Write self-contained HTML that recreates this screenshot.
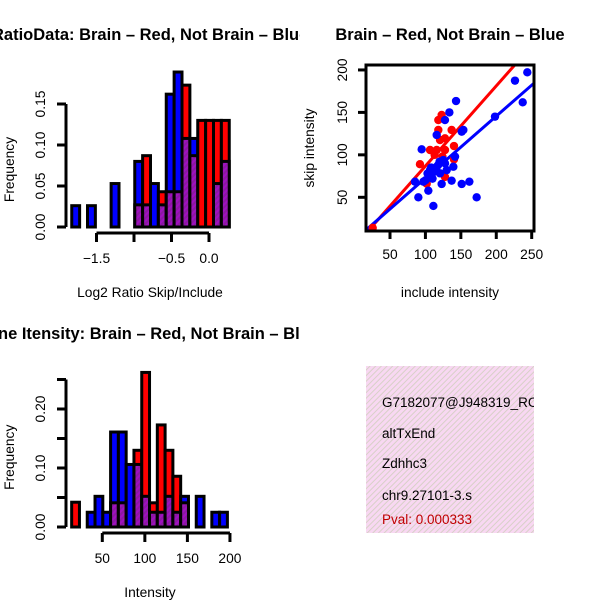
<!DOCTYPE html>
<html><head><meta charset="utf-8"><style>
html,body{margin:0;padding:0;background:#fff}
svg{display:block;font-family:"Liberation Sans",Arial,sans-serif}
</style></head><body>
<svg id="c" width="600" height="600" viewBox="0 0 600 600">
<defs>
<pattern id="hatch" width="4" height="4" patternUnits="userSpaceOnUse" patternTransform="rotate(45)">
<rect width="4" height="4" fill="#a010c0"/><rect width="2" height="4" fill="#8a1aa0"/></pattern>
<pattern id="pinkh" width="4" height="4" patternUnits="userSpaceOnUse" patternTransform="rotate(45)">
<rect width="4" height="4" fill="#f8d8f2"/><rect width="1" height="4" fill="#d8d0c8"/></pattern>
<clipPath id="clipL"><rect x="0" y="0" width="300" height="600"/></clipPath>
<clipPath id="clipS"><rect x="366" y="65" width="168" height="166"/></clipPath>
</defs>
<g id="h1" clip-path="url(#clipL)"></g>
<g id="h2" clip-path="url(#clipL)"></g>
<g id="sc"></g>
<g>
<rect x="366" y="366" width="168" height="167" fill="url(#pinkh)"/>
<svg x="366" y="366" width="168" height="167" overflow="hidden">
<g font-size="13.5">
<text x="16" y="41">G7182077@J948319_RC</text>
<text x="16" y="72">altTxEnd</text>
<text x="16" y="102">Zdhhc3</text>
<text x="16" y="134">chr9.27101-3.s</text>
<text x="16" y="158" fill="#c00000">Pval: 0.000333</text>
</g></svg>
</g>
</svg>
<script>
// Histogram 1: log2 ratio
const h1Start = -1.83, h1Width = 0.105;
const h1Blue = [0.026,0,0.026,0,0,0.053,0,0,0.080,0.027,0.053,0.027,0.162,0.189,0.108,0.108,0,0,0.053,0.080];
const h1Red  = [0,0,0,0,0,0,0,0,0.027,0.087,0,0.043,0.043,0.043,0.173,0.087,0.130,0.130,0.130,0.130];
const h1YTicks = [0,0.05,0.10,0.15];
const h1YLabels = ["0.00","0.05","0.10","0.15"];
const h1XTicks = [-1.5,-1.0,-0.5,0.0];
const h1XLabels = ["\u22121.5","","\u22120.5","0.0"];
// Histogram 2: intensity
const h2Start = 14, h2Width = 9.15;
const h2Blue = [0,0,0.025,0.052,0.025,0.161,0.161,0.106,0.106,0.052,0.025,0.025,0.052,0.025,0.052,0,0.052,0,0.025,0.025];
const h2Red  = [0.042,0,0,0,0,0.041,0.041,0,0.130,0.262,0.041,0.173,0.130,0.086,0.041,0,0,0,0,0];
const h2YTicks = [0,0.05,0.10,0.15,0.20,0.25];
const h2YLabels = ["0.00","","0.10","","0.20",""];
const h2XTicks = [50,100,150,200];
const h2XLabels = ["50","100","150","200"];
// Scatter
const redX = [25.6,92.3,106.5,115.9,127.6,120.6,127.6,118.2,122.9,118.2,137,140.3,140.3,127.6,101.8,111.2,113,124];
const redY = [14,89,105.7,105.7,105.7,117.5,119.5,129.3,147,141,129.3,110.4,94.7,74,66,82,100,98];
const blueX = [94.7,90,111.2,104.1,85.3,97.1,106.5,115.9,120.6,125.3,127.6,115.9,127.6,133.8,143.2,151.2,153.5,141.8,139.4,137,122.9,151.2,162,172.3,198.2,226.4,237.3,243.8,105,110,112,118,100,108,120,130,103];
const blueY = [106.5,50,39.8,57.8,68.4,68.4,82.1,86,78.2,93.9,90,123.4,141,150,163.4,127.3,129.3,97.9,86,69.6,65.7,65.7,68.4,50,145,187.4,161.9,197.2,75,72,80,88,70,85,92,82,78];
const redFit = [-7.6,0.944];
const blueFit = [-0.2,0.729];
const scXTicks = [50,100,150,200,250];
const scYTicks = [50,100,150,200];

const NS="http://www.w3.org/2000/svg";
const FS=13.8, TFS=16.5;
function mk(parent,tag,attrs,text){const e=document.createElementNS(NS,tag);for(const k in attrs)e.setAttribute(k,attrs[k]);if(text!==undefined)e.textContent=text;parent.appendChild(e);return e;}

function hist(g,o){
  const xs=v=>o.x0px+(v-o.x0)*o.xk, ys=v=>o.y0px-v*o.yk;
  for(let i=0;i<o.blue.length;i++){
    const b=o.blue[i],r=o.red[i];
    const l=xs(o.start+i*o.width), w=o.width*o.xk;
    const mx=Math.max(b,r), mn=Math.min(b,r);
    if(mx>0){
      const e=mk(g,'rect',{x:l,y:ys(mx),width:w,height:ys(0)-ys(mx),fill:(b>=r?'#0000ff':'#ff0000'),stroke:'#000','stroke-width':3});
      
      
    }
    if(mn>0){
      const e=mk(g,'rect',{x:l,y:ys(mn),width:w,height:ys(0)-ys(mn),fill:'url(#hatch)',stroke:'#000','stroke-width':3});
      
      
    }
  }
  const ya=mk(g,'g',{});
  
  
  mk(ya,'line',{x1:66,x2:66,y1:ys(o.yT[0]),y2:ys(o.yT[o.yT.length-1]),stroke:'#000','stroke-width':3});
  o.yT.forEach((t,i)=>{const y=ys(t);mk(ya,'line',{x1:57,x2:66,y1:y,y2:y,stroke:'#000','stroke-width':3});
    if(o.yL[i]){const tx=mk(ya,'text',{x:45,y:y,'font-size':FS,'text-anchor':'middle',transform:`rotate(-90 45 ${y})`},o.yL[i]);
      
      }});
  const xa=mk(g,'g',{});
  
  
  const ay=o.axisY;
  mk(xa,'line',{x1:xs(o.xT[0]),x2:xs(o.xT[o.xT.length-1]),y1:ay,y2:ay,stroke:'#000','stroke-width':3});
  o.xT.forEach((t,i)=>{const x=xs(t);mk(xa,'line',{x1:x,x2:x,y1:ay,y2:ay+9,stroke:'#000','stroke-width':3});
    if(o.xL[i]){const tx=mk(xa,'text',{x:x,y:ay+30,'font-size':FS,'text-anchor':'middle'},o.xL[i]);
      
      }});
  const cy=(ys(0)+ys(o.yT[o.yT.length-1]))/2+4;
  const yt=mk(g,'text',{x:14,y:cy,'font-size':FS,'text-anchor':'middle',transform:`rotate(-90 14 ${cy})`},'Frequency');
  
  
  const xt=mk(g,'text',{x:150,y:ay+64,'font-size':FS,'text-anchor':'middle'},o.xTitle);
  
  
  const tt=mk(g,'text',{x:o.titleX,y:o.titleY,'font-size':TFS,'font-weight':'bold'},o.title);
  
  
}
hist(document.getElementById('h1'),{start:h1Start,width:h1Width,blue:h1Blue,red:h1Red,x0:0,x0px:209,xk:75,y0px:227,yk:820,
  yT:h1YTicks,yL:h1YLabels,xT:h1XTicks,xL:h1XLabels,axisY:233,xTitle:'Log2 Ratio Skip/Include',
  title:'RatioData: Brain \u2013 Red, Not Brain \u2013 Blue',titleX:-8,titleY:40});
hist(document.getElementById('h2'),{start:h2Start,width:h2Width,blue:h2Blue,red:h2Red,x0:50,x0px:102.3,xk:0.851,y0px:527,yk:590,
  yT:h2YTicks,yL:h2YLabels,xT:h2XTicks,xL:h2XLabels,axisY:533,xTitle:'Intensity',
  title:'Gene Itensity: Brain \u2013 Red, Not Brain \u2013 Blue',titleX:-24,titleY:339});

(function(){
  const g=document.getElementById('sc');
  const xs=v=>390+(v-50)*0.7085, ys=v=>197.3-(v-50)*0.849;
  const pg=mk(g,'g',{'clip-path':'url(#clipS)'});
  const lr=mk(pg,'line',{x1:xs(0),y1:ys(redFit[0]),x2:xs(300),y2:ys(redFit[0]+redFit[1]*300),stroke:'#ff0000','stroke-width':3});
  
  
  const lb=mk(pg,'line',{x1:xs(0),y1:ys(blueFit[0]),x2:xs(300),y2:ys(blueFit[0]+blueFit[1]*300),stroke:'#0000ff','stroke-width':3});
  
  
  redX.forEach((x,i)=>{const c=mk(pg,'circle',{cx:xs(x),cy:ys(redY[i]),r:4.2,fill:'#ff0000'});
    
    });
  blueX.forEach((x,i)=>{const c=mk(pg,'circle',{cx:xs(x),cy:ys(blueY[i]),r:4.2,fill:'#0000ff'});
    
    });
  const box=mk(g,'rect',{x:366,y:65,width:168,height:166,fill:'none',stroke:'#000','stroke-width':3});
  
  
  scXTicks.forEach(t=>{const x=xs(t);mk(g,'line',{x1:x,x2:x,y1:231,y2:239,stroke:'#000','stroke-width':3});
    const tx=mk(g,'text',{x:x,y:259,'font-size':FS,'text-anchor':'middle'},String(t));
    
    });
  scYTicks.forEach(t=>{const y=ys(t);mk(g,'line',{x1:358,x2:366,y1:y,y2:y,stroke:'#000','stroke-width':3});
    const tx=mk(g,'text',{x:347,y:y,'font-size':FS,'text-anchor':'middle',transform:`rotate(-90 347 ${y})`},String(t));
    
    });
  const xt=mk(g,'text',{x:450,y:297,'font-size':FS,'text-anchor':'middle'},'include intensity');
  
  
  const yt=mk(g,'text',{x:314,y:148,'font-size':FS,'text-anchor':'middle',transform:'rotate(-90 314 148)'},'skip intensity');
  
  
  const tt=mk(g,'text',{x:450,y:40,'font-size':TFS,'font-weight':'bold','text-anchor':'middle'},'Brain \u2013 Red, Not Brain \u2013 Blue');
  
  
})();
</script>
</body></html>
